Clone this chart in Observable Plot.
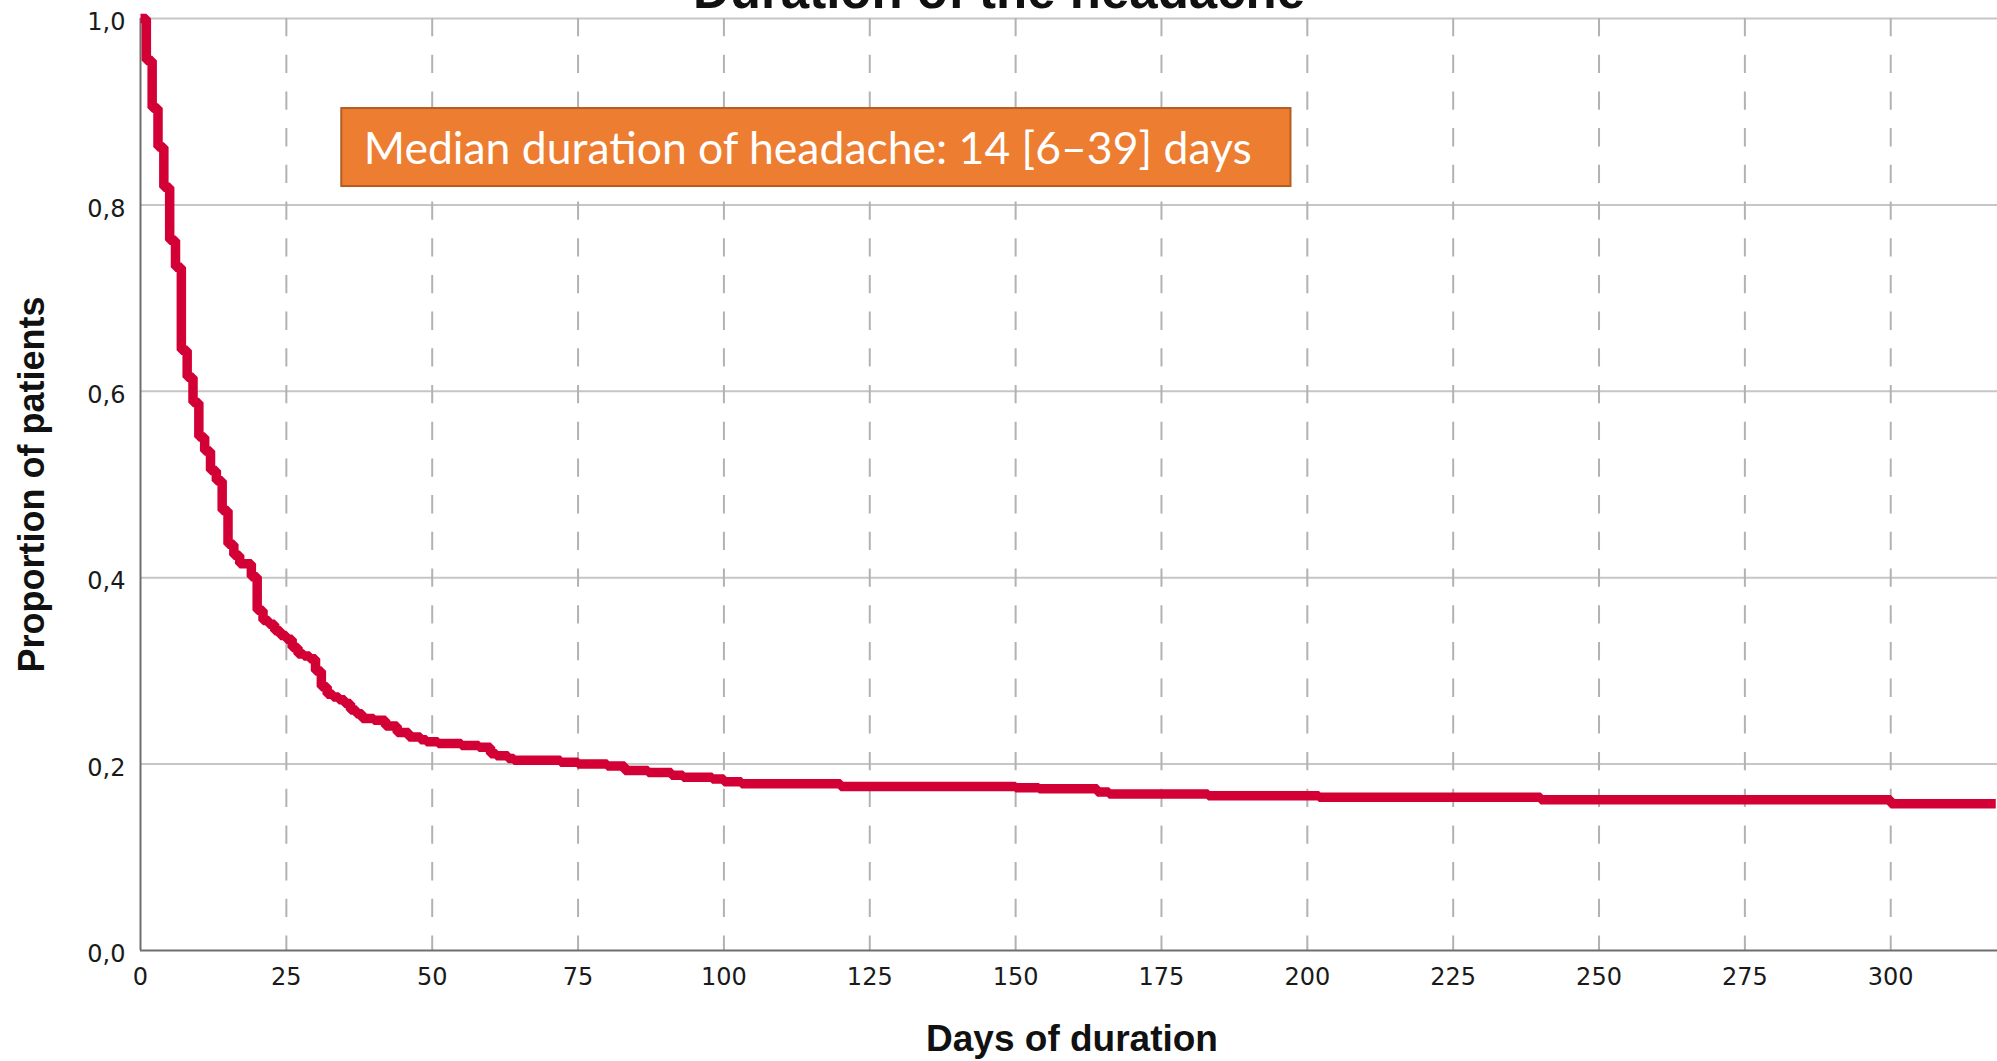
<!DOCTYPE html>
<html>
<head>
<meta charset="utf-8">
<script src="https://cdn.jsdelivr.net/npm/d3@7"></script>
<script src="https://cdn.jsdelivr.net/npm/@observablehq/plot@0.6"></script>
<style>
  html, body { margin: 0; padding: 0; background: #fff; overflow: hidden; }
  #chart svg { display: block; }
</style>
</head>
<body>
<div id="chart"></div>
<script>
// Kaplan–Meier estimate: day of each drop and the proportion of patients still with headache after it
const days = [0, 1, 2, 3, 4, 5, 6, 7, 8, 9, 10, 11, 12, 13, 14, 15, 16, 17,
  19, 20, 21, 22, 23, 24, 25, 26, 27, 28, 29, 30, 31, 32, 33, 34, 35, 36, 37, 38,
  40, 42, 44, 46, 48, 49, 51, 55, 58, 60, 61, 63, 64, 72, 75, 80, 83, 87, 91, 93,
  98, 100, 103, 120, 150, 154, 164, 166, 183, 202, 240, 300, 318];
const proportion = [1.000, 0.955, 0.904, 0.862, 0.819, 0.762, 0.733, 0.644, 0.615, 0.588, 0.551, 0.536, 0.515, 0.504, 0.472, 0.436, 0.424, 0.415,
  0.401, 0.365, 0.354, 0.350, 0.343, 0.338, 0.334, 0.325, 0.318, 0.316, 0.313, 0.300, 0.283, 0.275, 0.272, 0.269, 0.265, 0.258, 0.254, 0.249,
  0.247, 0.241, 0.234, 0.229, 0.226, 0.224, 0.222, 0.220, 0.218, 0.211, 0.209, 0.206, 0.204, 0.202, 0.200, 0.198, 0.193, 0.191, 0.188, 0.186,
  0.184, 0.181, 0.179, 0.176, 0.1745, 0.1735, 0.170, 0.168, 0.166, 0.1645, 0.1617, 0.1574, 0.1574];

// Axis ticks and their labels
const xTicks = [0, 25, 50, 75, 100, 125, 150, 175, 200, 225, 250, 275, 300];
const yTicks = [0, 0.2, 0.4, 0.6, 0.8, 1.0];
const yTickLabels = ["0,0", "0,2", "0,4", "0,6", "0,8", "1,0"];

// Texts
const titleText = "Duration of the headache";
const xTitle = "Days of duration";
const yTitle = "Proportion of patients";
const noteText = "Median duration of headache: 14 [6\u201339] days";

// Annotation box, in data units (days, proportion)
const noteBox = {x1: 34.5, x2: 197.2, y1: 0.8197, y2: 0.9034};

const curve = days.map((d, i) => ({day: d, p: proportion[i]}));

const chart = Plot.plot({
  width: 1997,
  height: 1061,
  marginLeft: 140,
  marginRight: 0,
  marginTop: 18,
  marginBottom: 111,
  style: {background: "#fff", fontFamily: "'DejaVu Sans', sans-serif", fontSize: "24px", color: "#1a1a1a"},
  x: {domain: [0, 318.3]},
  y: {domain: [0, 1]},
  marks: [
    // horizontal solid grid
    Plot.gridY(yTicks.filter(v => v > 0), {stroke: "#c6c6c6", strokeOpacity: 1, strokeWidth: 2}),
    // vertical dashed grid
    Plot.gridX(xTicks.filter(v => v > 0), {stroke: "#b2b2b2", strokeOpacity: 1, strokeWidth: 2, strokeDasharray: "18.3,18.4"}),
    // axis lines
    Plot.ruleY([0], {stroke: "#6e6e6e", strokeWidth: 2}),
    Plot.ruleX([0], {stroke: "#6e6e6e", strokeWidth: 2}),
    Plot.axisX(xTicks, {tickSize: 0, tickPadding: 17, label: null, tickFormat: d => String(d), fill: "#1a1a1a"}),
    Plot.axisY(yTicks, {tickSize: 0, tickPadding: 15, dy: 4, label: null, tickFormat: (d, i) => yTickLabels[i], fill: "#1a1a1a"}),
    // survival curve
    Plot.line(curve, {x: "day", y: "p", curve: "step-after", stroke: "#d30036", strokeWidth: 9.5, strokeLinejoin: "miter", strokeLinecap: "butt"}),
    // annotation
    Plot.rect([noteBox], {x1: "x1", x2: "x2", y1: "y1", y2: "y2", fill: "#ed7d31", stroke: "#b45d22", strokeWidth: 2}),
    Plot.text([noteBox], {x: "x1", y: d => (d.y1 + d.y2) / 2, text: () => noteText, textAnchor: "start", lineAnchor: "middle",
      dx: 22, dy: 2, fill: "#ffffff", fontSize: 44.5, fontFamily: "Lato, 'Open Sans', sans-serif"}),
    // titles
    Plot.text([titleText], {frameAnchor: "top", lineAnchor: "bottom", dy: -11, dx: -70, fontSize: 51, fontWeight: "bold",
      fontFamily: "'Liberation Sans', Arial, sans-serif", fill: "#111"}),
    Plot.text([xTitle], {frameAnchor: "bottom", lineAnchor: "bottom", dy: 100, dx: 3, fontSize: 37, fontWeight: "bold",
      fontFamily: "'Liberation Sans', Arial, sans-serif", fill: "#111"}),
    Plot.text([yTitle], {frameAnchor: "left", textAnchor: "middle", lineAnchor: "bottom", rotate: -90, dx: -97, fontSize: 36, fontWeight: "bold",
      fontFamily: "'Liberation Sans', Arial, sans-serif", fill: "#111"})
  ]
});

document.getElementById("chart").appendChild(chart);
</script>
</body>
</html>
